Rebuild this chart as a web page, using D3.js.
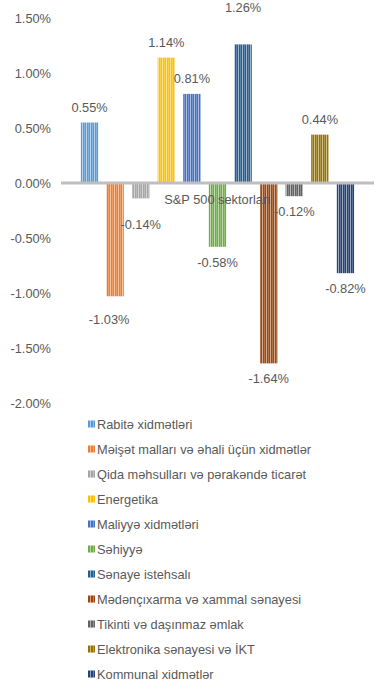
<!DOCTYPE html>
<html>
<head>
<meta charset="utf-8">
<script src="https://cdn.jsdelivr.net/npm/d3@7"></script>
<style>
  body { margin: 0; background: #fff; }
  svg text { font-family: "Liberation Sans", Arial, sans-serif; fill: #595959; }
</style>
</head>
<body>
<svg id="chart" width="387" height="694"></svg>
<script>
// chart data
const category = "S&P 500 sektorları";
const sectors = [
  "Rabitə xidmətləri",
  "Məişət malları və əhali üçün xidmətlər",
  "Qida məhsulları və pərakəndə ticarət",
  "Energetika",
  "Maliyyə xidmətləri",
  "Səhiyyə",
  "Sənaye istehsalı",
  "Mədənçıxarma və xammal sənayesi",
  "Tikinti və daşınmaz əmlak",
  "Elektronika sənayesi və İKT",
  "Kommunal xidmətlər"
];
const values = [0.55, -1.03, -0.14, 1.14, 0.81, -0.58, 1.26, -1.64, -0.12, 0.44, -0.82];
const yTicks = [1.5, 1.0, 0.5, 0.0, -0.5, -1.0, -1.5, -2.0];

const colors = ["#5B9BD5", "#ED7D31", "#A5A5A5", "#FFC000", "#4472C4", "#70AD47",
                "#255E91", "#9E480E", "#636363", "#997300", "#264478"];
// hand-moved data labels in the original (dx, dy)
const labelNudge = { 1: [-6, 8], 2: [0, 11], 6: [0, -21] };

const svg = d3.select("#chart");
const fs = "12.8px";

// striped fills
const defs = svg.append("defs");
colors.forEach((c, i) => {
  const p = defs.append("pattern")
    .attr("id", "pat" + i)
    .attr("patternUnits", "userSpaceOnUse")
    .attr("width", 4).attr("height", 4);
  p.append("rect").attr("width", 4).attr("height", 4).attr("fill", c);
  p.append("rect").attr("x", 1).attr("width", 1).attr("height", 4)
    .attr("fill", "#fff").attr("opacity", 0.55);
  p.append("rect").attr("x", 3).attr("width", 1).attr("height", 4)
    .attr("fill", "#fff").attr("opacity", 0.25);
});

const y = d3.scaleLinear().domain([-2.0, 1.5]).range([403, 18]);

const x0 = d3.scaleBand().domain([category]).range([61, 374]);
const x1 = d3.scaleBand().domain(sectors)
  .range([0, x0.bandwidth()])
  .paddingInner(0.32)
  .paddingOuter(0.775);

// y axis (labels only)
const yAxis = svg.append("g")
  .attr("transform", "translate(51,0)")
  .call(d3.axisLeft(y).tickValues(yTicks).tickSize(0).tickPadding(0)
    .tickFormat(d => d.toFixed(2) + "%"));
yAxis.select(".domain").remove();
yAxis.selectAll("text").style("font-size", fs).attr("fill", "#595959").attr("dy", "0.36em");

// bars
const g = svg.append("g").attr("transform", "translate(" + x0(category) + ",0)");
g.selectAll("rect.bar")
  .data(values)
  .enter()
  .append("rect")
  .attr("class", "bar")
  .attr("x", (d, i) => x1(sectors[i]))
  .attr("y", d => y(Math.max(0, d)))
  .attr("width", x1.bandwidth())
  .attr("height", d => Math.abs(y(d) - y(0)))
  .attr("fill", (d, i) => "url(#pat" + i + ")");

// zero line
svg.append("line")
  .attr("x1", 61).attr("x2", 374)
  .attr("y1", y(0)).attr("y2", y(0))
  .attr("stroke", "#BFBFBF").attr("stroke-width", 3);

// category label (sits over the bars, like the original)
svg.append("text")
  .attr("x", x0(category) + x0.bandwidth() / 2)
  .attr("y", 203.5)
  .attr("text-anchor", "middle")
  .style("font-size", fs)
  .text(category);

// data labels
g.selectAll("text.lbl")
  .data(values)
  .enter()
  .append("text")
  .attr("class", "lbl")
  .attr("text-anchor", "middle")
  .style("font-size", fs)
  .attr("x", (d, i) => x1(sectors[i]) + x1.bandwidth() / 2 + (labelNudge[i] ? labelNudge[i][0] : 0))
  .attr("y", (d, i) => (d >= 0 ? y(d) - 11 : y(d) + 20) + (labelNudge[i] ? labelNudge[i][1] : 0))
  .text(d => d.toFixed(2) + "%");

// legend
const legend = svg.append("g");
const rows = legend.selectAll("g")
  .data(sectors)
  .enter()
  .append("g")
  .attr("transform", (d, i) => "translate(88," + (424 + i * 25) + ")");
rows.append("rect")
  .attr("x", 0).attr("y", -3.5)
  .attr("width", 7).attr("height", 7)
  .attr("fill", (d, i) => colors[i]);
rows.append("rect")
  .attr("x", 2).attr("y", -3.5)
  .attr("width", 1).attr("height", 7)
  .attr("fill", "#fff").attr("opacity", 0.5);
rows.append("rect")
  .attr("x", 5).attr("y", -3.5)
  .attr("width", 1).attr("height", 7)
  .attr("fill", "#fff").attr("opacity", 0.3);
rows.append("text")
  .attr("x", 9)
  .attr("y", 4.5)
  .style("font-size", fs)
  .text(d => d);
</script>
</body>
</html>
